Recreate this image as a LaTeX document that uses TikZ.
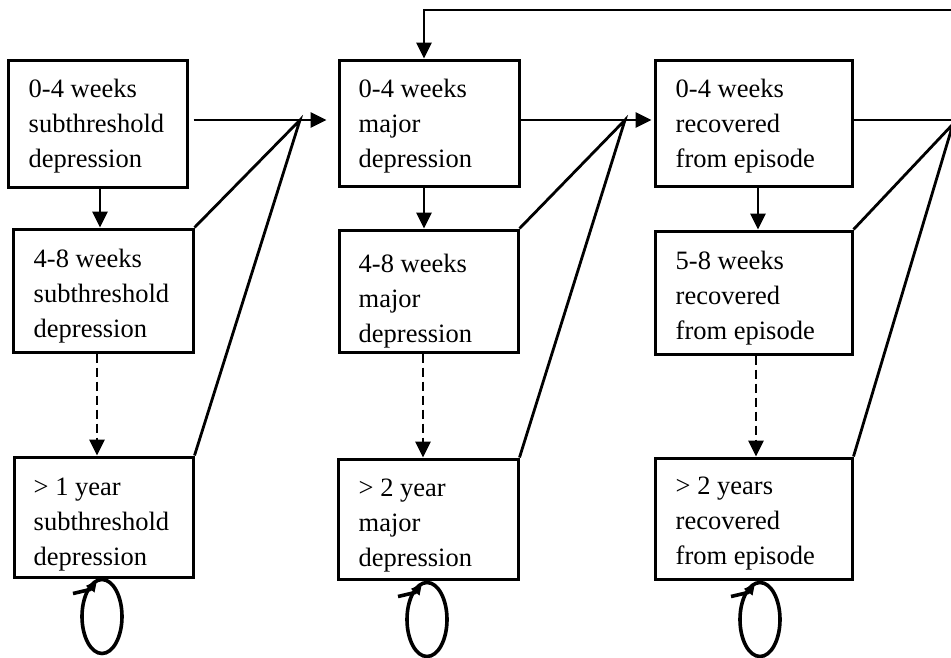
\documentclass[tikz,border=0pt]{standalone}
\usepackage{fontspec}
\setmainfont{Liberation Serif}
\usetikzlibrary{arrows.meta,calc}
\begin{document}
\begin{tikzpicture}[x=1pt,y=-1pt,
  box/.style={draw, line width=3pt, inner sep=0pt},
  txt/.style={anchor=north west, inner sep=0pt, align=left, font=\fontsize{26.5}{35}\selectfont},
  conn/.style={line width=2.8pt},
  arr/.style={conn, -{Triangle[length=16pt,width=15pt]}},
  darr/.style={arr, dash pattern=on 9pt off 5pt},
  loopst/.style={line width=3.6pt},
  looptip/.style={line width=3.6pt, -{Triangle[length=11pt,width=10pt]}}]
\useasboundingbox (0,0) rectangle (951,657);

% boxes
\node[box, minimum width=179pt, minimum height=127pt] (A1) at (97.5,123.5) {};
\node[box, minimum width=180pt, minimum height=123pt] (A2) at (103,290.5) {};
\node[box, minimum width=179pt, minimum height=120pt] (A3) at (103.5,517) {};
\node[box, minimum width=180pt, minimum height=126pt] (B1) at (429,123) {};
\node[box, minimum width=179pt, minimum height=122pt] (B2) at (428.5,291) {};
\node[box, minimum width=180pt, minimum height=120pt] (B3) at (428,519) {};
\node[box, minimum width=197pt, minimum height=126pt] (C1) at (753.5,123) {};
\node[box, minimum width=197pt, minimum height=123pt] (C2) at (753.5,292.5) {};
\node[box, minimum width=197pt, minimum height=121pt] (C3) at (753.5,518.5) {};

% texts
\node[txt] (A1t) at ($(A1.north west)+(22,20)$) {0-4 weeks\\subthreshold\\depression};
\node[txt] (A2t) at ($(A2.north west)+(22,21)$) {4-8 weeks\\subthreshold\\depression};
\node[txt] (A3t) at ($(A3.north west)+(21,22)$) {> 1 year\\subthreshold\\depression};
\node[txt] (B1t) at ($(B1.north west)+(21,20)$) {0-4 weeks\\major\\depression};
\node[txt] (B2t) at ($(B2.north west)+(21,25)$) {4-8 weeks\\major\\depression};
\node[txt] (B3t) at ($(B3.north west)+(22,21)$) {> 2 year\\major\\depression};
\node[txt] (C1t) at ($(C1.north west)+(22,20)$) {0-4 weeks\\recovered\\from episode};
\node[txt] (C2t) at ($(C2.north west)+(22,21)$) {5-8 weeks\\recovered\\from episode};
\node[txt] (C3t) at ($(C3.north west)+(22,20)$) {> 2 years\\recovered\\from episode};

% helper coordinates
\coordinate (P1) at (300,120);
\coordinate (P2) at (625,120);
\coordinate (P3) at (953,124);
\coordinate (E3) at (962,120);
\coordinate (xa) at (100,0);
\coordinate (xad) at (97,0);
\coordinate (xb) at (424,0);
\coordinate (xbd) at (423,0);
\coordinate (xc) at (758,0);
\coordinate (xcd) at (756,0);
\coordinate (T) at (424,10);
\coordinate (TR) at (962,10);

% vertical arrows
\draw[arr] (A1.south -| xa) -- (A2.north -| xa);
\draw[darr] (A2.south -| xad) -- (A3.north -| xad);
\draw[arr] (B1.south -| xb) -- (B2.north -| xb);
\draw[darr] (B2.south -| xbd) -- (B3.north -| xbd);
\draw[arr] (C1.south -| xc) -- (C2.north -| xc);
\draw[darr] (C2.south -| xcd) -- (C3.north -| xcd);

% horizontal arrows and converging lines
\draw[arr] ($(A1.east |- P1)+(5,0)$) -- ($(B1.west |- P1)+(-11,0)$);
\draw[conn] (A2.north east) -- (P1) -- (A3.north east);
\draw[arr] (B1.east |- P2) -- ($(C1.west |- P2)+(-2,0)$);
\draw[conn] (B2.north east) -- (P2) -- (B3.north east);
\draw[conn] (C1.east |- E3) -- (E3);
\draw[conn] (C2.north east) -- (P3) -- (C3.north east);

% feedback line on top
\draw[arr] (TR) -- (T) -- (T |- B1.north);

% self loops
\coordinate (LA) at ($(A3.south)+(-1.5,38)$);
\coordinate (LB) at ($(B3.south)+(-1,39)$);
\coordinate (LC) at ($(C3.south)+(6.5,39)$);
\foreach \L in {LA,LB,LC}{
  \draw[loopst] (\L) ellipse [x radius=20pt, y radius=37pt];
  \draw[looptip] ($(\L)+(-29,-23)$) -- ($(\L)+(-12,-27)$) -- ($(\L)+(-5,-36)$);
}
\end{tikzpicture}
\end{document}
